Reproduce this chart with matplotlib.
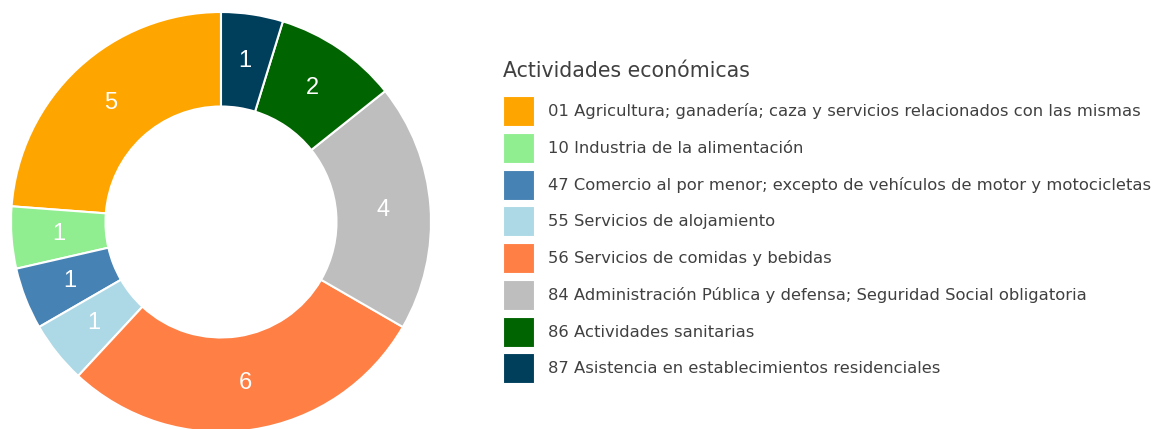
import matplotlib
matplotlib.use("Agg")
import matplotlib.pyplot as plt

# datos del gráfico
actividades = [
    "01 Agricultura; ganadería; caza y servicios relacionados con las mismas",
    "10 Industria de la alimentación",
    "47 Comercio al por menor; excepto de vehículos de motor y motocicletas",
    "55 Servicios de alojamiento",
    "56 Servicios de comidas y bebidas",
    "84 Administración Pública y defensa; Seguridad Social obligatoria",
    "86 Actividades sanitarias",
    "87 Asistencia en establecimientos residenciales",
]
valores = [5, 1, 1, 1, 6, 4, 2, 1]
colores = ["#FFA500", "#90EE90", "#4682B4", "#ADD8E6",
           "#FF7F45", "#BEBEBE", "#006400", "#003F5C"]

plt.rcParams['font.family'] = ['DejaVu Sans']

W, H = 1164, 429
fig = plt.figure(figsize=(W / 100, H / 100), dpi=100)

# donut: centro (221, 222) px desde arriba, radio 210 px
cx, cy, r = 221, 222, 210
ax = fig.add_axes([(cx - r) / W, (H - cy - r) / H, 2 * r / W, 2 * r / H])
total = sum(valores)
wedges, textos, autotextos = ax.pie(
    valores, colors=colores, startangle=90, counterclock=True,
    radius=1, wedgeprops=dict(width=0.45, edgecolor="white", linewidth=1.5),
    autopct=lambda p: f"{round(p * total / 100):d}", pctdistance=0.775,
    textprops=dict(color="white", fontsize=17, family="Liberation Sans"))
ax.set_xlim(-1, 1)
ax.set_ylim(-1, 1)
ax.set_aspect("equal")
ax.axis("off")

fs = 11.8
leg = fig.legend(wedges, actividades, title="Actividades económicas",
                 loc="upper left", bbox_to_anchor=(503 / W, 1 - 61 / H),
                 frameon=False, fontsize=fs, title_fontsize=14.8,
                 handlelength=1.89, handleheight=2.44, labelspacing=0.41,
                 handletextpad=0.85, borderpad=0, borderaxespad=0,
                 alignment="left", labelcolor="#404040")
leg.get_title().set_color("#404040")
leg._legend_box.sep = 11  # hueco entre título y primera fila
for h in leg.legend_handles:
    h.set_edgecolor("white")
    h.set_linewidth(0.8)

fig.savefig("out.png", dpi=100)
